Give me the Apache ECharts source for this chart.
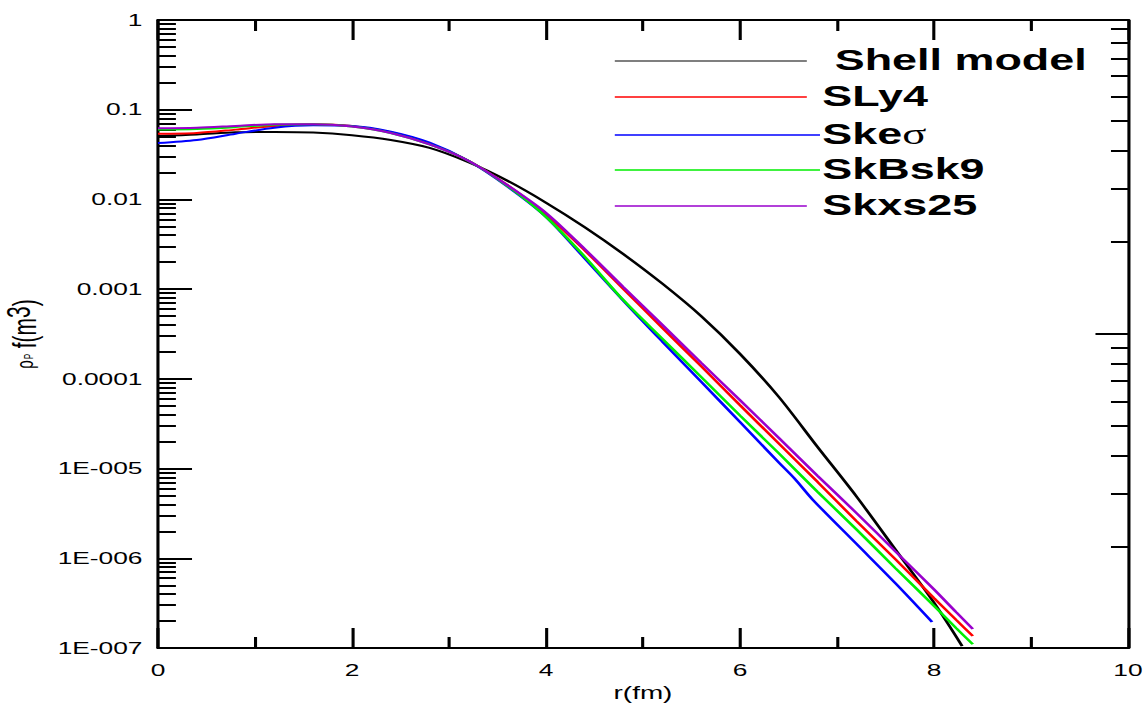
<!DOCTYPE html>
<html><head><meta charset="utf-8">
<script src="https://cdn.jsdelivr.net/npm/echarts@6/dist/echarts.min.js"></script>
<style>
html,body{margin:0;padding:0;background:#fff;overflow:hidden;}
#wrap{width:1146px;height:706px;overflow:hidden;position:relative;background:#fff;}
#chart{width:740px;height:706px;transform:scaleX(1.5486);transform-origin:0 0;}
</style></head><body><div id="wrap"><div id="chart"></div></div>
<script>
// ---- data ----
const seriesNames = ['Shell model', 'SLy4', 'Skeσ', 'SkBsk9', 'Skxs25'];
const seriesColors = ['#000000', '#ff0000', '#0000ff', '#00ee00', '#9900cc'];

const shellR   = [0, 0.4, 0.8, 1.2, 1.6, 2.0, 2.4, 2.8, 3.2, 3.6, 4.0, 4.4, 4.8, 5.2, 5.6, 6.0, 6.4, 6.8, 7.2, 7.6, 8.0, 8.29];
const shellRho = [0.051, 0.053, 0.056, 0.0566, 0.0558, 0.052, 0.046, 0.0375, 0.026, 0.0162, 0.0092, 0.0049, 0.00245, 0.00115, 5.0e-4, 1.9e-4, 6.3e-5, 1.74e-5, 4.9e-6, 1.26e-6, 3.2e-7, 1.05e-7];

const sly4R   = [0, 0.4, 0.8, 1.2, 1.6, 2.0, 2.4, 2.8, 3.2, 3.6, 4.0, 4.4, 4.8, 5.2, 5.6, 6.0, 6.4, 6.8, 7.2, 7.6, 8.0, 8.23, 8.4];
const sly4Rho = [0.054, 0.055, 0.060, 0.066, 0.069, 0.066, 0.056, 0.042, 0.027, 0.0145, 0.0068, 0.0027, 0.001, 3.7e-4, 1.38e-4, 5.1e-5, 1.9e-5, 7.1e-6, 2.6e-6, 9.8e-7, 3.6e-7, 2.05e-7, 1.36e-7];

const skesR   = [0, 0.4, 0.8, 1.2, 1.6, 2.0, 2.4, 2.8, 3.2, 3.6, 4.0, 4.4, 4.8, 5.2, 5.6, 6.0, 6.4, 6.56, 6.75, 7.2, 7.6, 7.98];
const skesRho = [0.0425, 0.046, 0.054, 0.063, 0.067, 0.066, 0.057, 0.043, 0.027, 0.014, 0.0064, 0.0022, 7.4e-4, 2.6e-4, 9.3e-5, 3.3e-5, 1.17e-5, 7.8e-6, 4.5e-6, 1.45e-6, 5.3e-7, 1.95e-7];

const skbR   = [0, 0.4, 0.8, 1.2, 1.6, 2.0, 2.4, 2.8, 3.2, 3.6, 4.0, 4.4, 4.8, 5.2, 5.6, 6.0, 6.4, 6.8, 7.2, 7.6, 8.0, 8.23, 8.4];
const skbRho = [0.060, 0.061, 0.064, 0.068, 0.069, 0.065, 0.055, 0.041, 0.027, 0.0142, 0.0064, 0.0023, 7.5e-4, 2.8e-4, 1.05e-4, 3.9e-5, 1.48e-5, 5.5e-6, 2.1e-6, 7.8e-7, 2.95e-7, 1.66e-7, 1.1e-7];

const skxR   = [0, 0.4, 0.8, 1.2, 1.6, 2.0, 2.4, 2.8, 3.2, 3.6, 4.0, 4.4, 4.8, 5.2, 5.6, 6.0, 6.4, 6.8, 7.2, 7.6, 8.0, 8.23, 8.4];
const skxRho = [0.062, 0.063, 0.066, 0.069, 0.069, 0.065, 0.055, 0.041, 0.027, 0.0145, 0.0071, 0.0028, 0.00105, 4.0e-4, 1.51e-4, 5.8e-5, 2.2e-5, 8.3e-6, 3.2e-6, 1.2e-6, 4.5e-7, 2.5e-7, 1.63e-7];

const xTickLabels = ['0', '2', '4', '6', '8', '10'];
const yTickLabels = ['1E-007', '1E-006', '1E-005', '0.0001', '0.001', '0.01', '0.1', '1'];
const xAxisTitle = 'r(fm)';

// ---- build ----
const seriesR = [shellR, sly4R, skesR, skbR, skxR];
const seriesRho = [shellRho, sly4Rho, skesRho, skbRho, skxRho];
const pairs = (xs, ys) => xs.map((x, i) => [x, ys[i]]);

// minor log tick positions (exponent space) for the left axis
const leftMinor = [];
for (let n = -7; n < 0; n++) for (let k = 2; k <= 9; k++) leftMinor.push(n + Math.log10(k));
// right-hand frame axis (its own log decade spacing)
const rightMinor = [];
for (let n = -2; n <= 1; n++) for (let k = 1; k <= 9; k++) {
  const v = n + Math.log10(k);
  if (v > -1.0 && v <= 1.02 && Math.abs(v) > 1e-9) rightMinor.push(v);
}

const FONT = 'Liberation Sans';
const chart = echarts.init(document.getElementById('chart'), null, { renderer: 'svg' });

const xBase = {
  type: 'value', min: 0, max: 10, interval: 2,
  axisLine: { onZero: false, lineStyle: { color: '#000', width: 2 } },
  axisTick: { inside: true, length: 20, lineStyle: { color: '#000', width: 2 } },
  minorTick: { show: true, splitNumber: 2, length: 11, lineStyle: { color: '#000', width: 2 } },
  splitLine: { show: false }, minorSplitLine: { show: false }
};

const option = {
  animation: false,
  backgroundColor: '#fff',
  grid: { left: 102, right: 11.6, top: 20, bottom: 58, containLabel: false, outerBoundsMode: 'none' },
  xAxis: [
    Object.assign({}, xBase, {
      position: 'bottom',
      name: xAxisTitle, nameLocation: 'middle', nameGap: 33,
      nameTextStyle: { fontFamily: FONT, fontSize: 18, color: '#000' },
      axisLabel: {
        margin: 14, fontFamily: FONT, fontSize: 17, color: '#000',
        formatter: v => xTickLabels[Math.round(v / 2)]
      }
    }),
    Object.assign({}, xBase, { position: 'top', axisLabel: { show: false } })
  ],
  yAxis: [
    {
      type: 'log', logBase: 10, min: 1e-7, max: 1, splitNumber: 7, interval: 1,
      position: 'left',
      axisLine: { onZero: false, lineStyle: { color: '#000', width: 2 } },
      axisTick: { inside: true, length: 22, lineStyle: { color: '#000', width: 2 } },
      splitLine: { show: false },
      axisLabel: {
        margin: 10, fontFamily: FONT, fontSize: 17, color: '#000',
        formatter: v => yTickLabels[Math.round(Math.log10(v)) + 7]
      },
      name: '{r|ρ}{s|P}{g|  }{f|f(m}{e|3}{f|)}',
      nameLocation: 'middle', nameRotate: 90, nameGap: 62,
      nameTextStyle: {
        color: '#000', fontFamily: FONT,
        rich: {
          r: { fontSize: 15, fontFamily: FONT, color: '#000' },
          s: { fontSize: 8, fontFamily: FONT, color: '#000', padding: [6, 0, 0, 1] },
          g: { fontSize: 10, fontFamily: FONT },
          f: { fontSize: 21, fontFamily: FONT, color: '#000' },
          e: { fontSize: 21, fontFamily: FONT, color: '#000', padding: [0, 0, 8, 0] }
        }
      }
    },
    {
      type: 'value', min: -7, max: 0, position: 'left',
      axisLine: { show: false, onZero: false },
      axisLabel: { show: false }, splitLine: { show: false },
      axisTick: { show: true, inside: true, length: 11.6, customValues: leftMinor, lineStyle: { color: '#000', width: 2 } }
    },
    {
      type: 'value', min: -1.0295, max: 1.0295, position: 'right',
      axisLine: { show: true, onZero: false, lineStyle: { color: '#000', width: 2 } },
      axisLabel: { show: false }, splitLine: { show: false },
      axisTick: { show: true, inside: true, length: 11, customValues: rightMinor, lineStyle: { color: '#000', width: 2 } }
    },
    {
      type: 'value', min: -1.0295, max: 1.0295, position: 'right',
      axisLine: { show: false, onZero: false },
      axisLabel: { show: false }, splitLine: { show: false },
      axisTick: { show: true, inside: true, length: 21, customValues: [0], lineStyle: { color: '#000', width: 2 } }
    }
  ],
  series: seriesNames.map((name, i) => ({
    name, type: 'line', xAxisIndex: 0, yAxisIndex: 0,
    data: pairs(seriesR[i], seriesRho[i]),
    showSymbol: false, smooth: 0.3,
    lineStyle: { color: seriesColors[i], width: 2 },
    itemStyle: { color: seriesColors[i] },
    z: 2 + i
  })),
  graphic: []
};

// legend drawn as graphic elements from the names/colors arrays
const legY = [61, 97, 135, 170, 206];
const legLineEnd = [521, 521, 529.5, 529.5, 521];
const legTextX = [539, 531, 531, 531, 531];
seriesNames.forEach((name, i) => {
  option.graphic.push({
    type: 'line', silent: true,
    shape: { x1: 397, y1: legY[i], x2: legLineEnd[i], y2: legY[i] },
    style: { stroke: seriesColors[i], lineWidth: i === 0 ? 1.2 : 1.6 }
  });
  let txt, rich;
  if (name.endsWith('σ')) {
    txt = '{a|' + name.slice(0, -1) + '}{b|σ}';
    rich = {
      a: { fontSize: 29, fontWeight: 'bold', fontFamily: FONT, fill: '#000' },
      b: { fontSize: 29, fontFamily: 'Liberation Serif', fill: '#000' }
    };
  } else {
    txt = '{a|' + name + '}';
    rich = { a: { fontSize: 29, fontWeight: 'bold', fontFamily: FONT, fill: '#000' } };
  }
  option.graphic.push({
    type: 'text', silent: true, x: legTextX[i], y: legY[i] - 1,
    style: { text: txt, rich, fill: '#000', align: 'left', verticalAlign: 'middle' }
  });
});

chart.setOption(option);
</script>
</body></html>
